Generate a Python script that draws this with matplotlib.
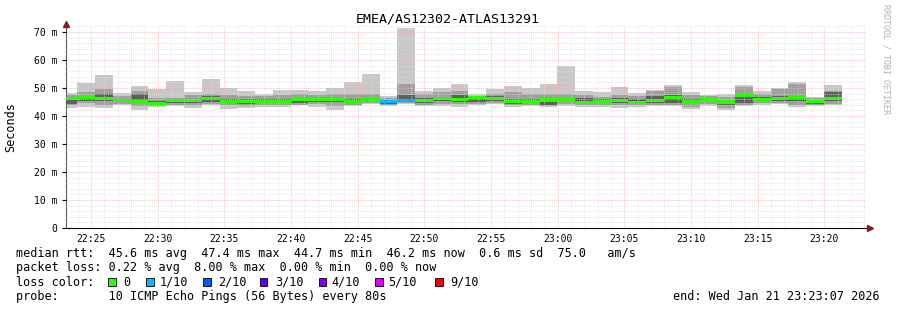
import numpy as np
import matplotlib
matplotlib.use("Agg")
import matplotlib.pyplot as plt
from matplotlib.patches import Rectangle
from matplotlib.ticker import MultipleLocator, FixedLocator

# -----------------------------
# Data (ms), one entry per 80 s bucket, first bucket starts 22:22:38
# -----------------------------
first_bucket = "22:22:38"
step_s = 80

ping_max = [48.1, 51.9, 54.6, 48.1, 50.7, 49.6, 52.5, 48.6, 53.2, 50.0, 48.9,
            47.9, 49.3, 49.3, 49.0, 50.1, 52.2, 55.1, 47.3, 71.4, 49.0, 50.0,
            51.4, 47.9, 49.5, 50.8, 50.0, 51.4, 58.0, 48.9, 48.5, 50.2, 48.1,
            49.3, 51.0, 48.5, 47.5, 47.7, 51.0, 48.9, 50.1, 52.1, 46.9, 51.1]
ping_hi = [47.5, 48.6, 49.8, 47.0, 49.0, 46.5, 46.5, 47.5, 48.0, 47.5, 47.3,
           47.0, 47.5, 48.0, 47.5, 48.0, 48.0, 48.0, 46.5, 51.4, 47.8, 48.5,
           49.0, 47.2, 48.0, 48.5, 48.0, 48.0, 48.0, 47.5, 46.8, 47.5, 47.0,
           49.0, 50.5, 47.5, 47.0, 46.7, 50.5, 48.0, 49.5, 51.5, 46.5, 49.0]
ping_dhi = [46.5, 47.0, 48.0, 46.0, 47.8, 45.5, 45.8, 46.0, 47.0, 46.0, 46.0,
            46.0, 46.2, 46.5, 46.6, 46.5, 46.2, 46.5, 45.8, 47.5, 46.5, 46.8,
            47.5, 46.8, 47.0, 46.0, 46.0, 46.3, 46.3, 46.5, 46.0, 46.3, 46.0,
            47.0, 47.5, 46.0, 46.3, 45.7, 48.0, 46.8, 47.0, 47.3, 45.8, 48.5]
median = [46.2, 46.5, 46.3, 45.6, 45.0, 44.6, 45.4, 45.4, 46.4, 45.3, 45.3,
          45.3, 45.3, 45.9, 46.0, 46.0, 45.3, 45.9, 45.1, 45.5, 45.5, 46.1,
          46.0, 46.6, 46.4, 45.2, 45.1, 45.7, 45.7, 44.9, 45.2, 45.5, 44.9,
          45.6, 46.5, 45.0, 45.7, 45.0, 47.4, 46.0, 46.2, 46.5, 45.1, 46.2]
ping_dlo = [44.3, 45.5, 45.5, 45.0, 44.5, 44.0, 44.8, 44.5, 45.0, 44.6, 44.2,
            44.6, 44.6, 44.8, 45.0, 45.0, 44.6, 45.3, 44.3, 45.0, 44.6, 45.3,
            45.0, 45.0, 45.5, 44.2, 44.5, 44.0, 45.0, 44.3, 44.5, 44.6, 44.4,
            44.8, 44.5, 44.3, 45.0, 44.0, 44.5, 45.3, 45.2, 45.2, 44.3, 45.3]
ping_lo = [43.8, 44.5, 44.0, 44.2, 43.5, 43.6, 44.0, 43.8, 44.3, 43.8, 43.5,
           43.8, 43.8, 44.0, 44.2, 43.5, 44.0, 44.8, 44.0, 44.6, 44.0, 44.4,
           44.2, 44.3, 44.8, 43.8, 44.0, 43.6, 44.3, 43.8, 43.9, 43.8, 43.8,
           44.0, 44.0, 43.3, 44.3, 43.0, 44.0, 44.6, 44.7, 44.0, 44.0, 44.4]
ping_min = [42.9, 43.3, 42.8, 43.8, 42.1, 43.3, 43.4, 43.0, 43.9, 42.6, 42.9,
            43.2, 43.3, 43.8, 43.3, 42.0, 43.5, 44.2, 43.6, 44.3, 43.7, 43.7,
            43.3, 43.9, 44.3, 43.1, 43.6, 43.2, 43.5, 43.3, 43.3, 43.0, 43.3,
            43.5, 43.4, 42.6, 43.7, 42.1, 43.5, 44.0, 44.2, 43.3, 43.6, 43.8]
loss = [0, 0, 0, 0, 0, 0, 0, 0, 0, 0, 0, 0, 0, 0, 0, 0, 0, 0, 1, 1, 0, 0,
        0, 0, 0, 0, 0, 0, 0, 0, 0, 0, 0, 0, 0, 0, 0, 0, 0, 0, 0, 0, 0, 0]

loss_labels = ["0", "1/10", "2/10", "3/10", "4/10", "5/10", "9/10"]
loss_colors = ["#26ff00", "#00b8ff", "#0059ff", "#5e00ff", "#7e00ff", "#dd00ff", "#ff0000"]
loss_levels = [0, 1, 2, 3, 4, 5, 9]

yticks = [0, 10, 20, 30, 40, 50, 60, 70]
xtick_labels = ["22:25", "22:30", "22:35", "22:40", "22:45", "22:50",
                "22:55", "23:00", "23:05", "23:10", "23:15", "23:20"]

# -----------------------------
# Time axis in minutes after 22:00
# -----------------------------
def to_min(s):
    h, m, sec = [int(p) for p in s.split(":")]
    return (h - 22) * 60 + m + sec / 60.0

x0 = to_min(first_bucket)
starts = x0 + np.arange(len(median)) * step_s / 60.0
width = step_s / 60.0
t_end = to_min("23:23:07")
t_start = t_end - 60

mono = "DejaVu Sans Mono"

fig = plt.figure(figsize=(8.97, 3.10), dpi=100)
W, H = 897, 310
ax = fig.add_axes([66 / W, (H - 228) / H, 800 / W, 202 / H])

# -----------------------------
# Smoke layers
# -----------------------------
mx, hi, dhi = np.array(ping_max), np.array(ping_hi), np.array(ping_dhi)
mn, lo, dlo = np.array(ping_min), np.array(ping_lo), np.array(ping_dlo)
med = np.array(median)

for top, bot, col in [(mx, mn, "#c8c8c8"), (hi, lo, "#a0a0a0"), (dhi, dlo, "#606060")]:
    ax.bar(starts, top - bot, bottom=bot, width=width, align="edge",
           color=col, linewidth=0, antialiased=False, zorder=2)

med_cols = [loss_colors[loss_levels.index(l)] for l in loss]
ax.bar(starts, 1.1, bottom=med - 0.55, width=width, align="edge",
       color=med_cols, linewidth=0, antialiased=False, zorder=5)

# -----------------------------
# Axes, grid
# -----------------------------
ax.set_xlim(t_start, t_end)
ax.set_ylim(0, 72.14)

major_x = [to_min(s + ":00") for s in xtick_labels]
ax.xaxis.set_major_locator(FixedLocator(major_x))
ax.set_xticklabels(xtick_labels, fontsize=7, family=mono)
ax.xaxis.set_minor_locator(MultipleLocator(1))
ax.set_yticks(yticks)
ax.set_yticklabels(["0" if v == 0 else f"{v} m" for v in yticks], fontsize=7, family=mono)
ax.yaxis.set_minor_locator(MultipleLocator(2))

ax.grid(which="minor", color="#dcdcdc", linestyle=(0, (1, 1.5)), linewidth=0.6, zorder=4)
ax.grid(which="major", color="#f2a8a8", linestyle=(0, (1, 1.5)), linewidth=0.6, zorder=4)
ax.set_axisbelow(False)
ax.tick_params(which="both", length=0)
ax.tick_params(axis="x", which="major", length=0, pad=4, colors="#000000")
ax.tick_params(axis="y", which="major", length=3, pad=3)

for s in ["top", "right"]:
    ax.spines[s].set_visible(False)
ax.spines["left"].set_color("#555555")
ax.spines["left"].set_linewidth(0.8)
ax.spines["bottom"].set_color("#000000")
ax.spines["bottom"].set_linewidth(0.8)
ax.spines["left"].set_bounds(0, 73.5)

# arrows
ax.plot([0], [1.01], marker="^", markersize=4, color="#8b1a1a",
        transform=ax.transAxes, clip_on=False, zorder=6)
ax.plot([1.005], [0], marker=">", markersize=4, color="#8b1a1a",
        transform=ax.transAxes, clip_on=False, zorder=6)

# -----------------------------
# Texts
# -----------------------------
fig.text(448 / W, 1 - 19 / H, "EMEA/AS12302-ATLAS13291", ha="center", va="center",
         fontsize=9.5, family=mono)
fig.text(11 / W, 1 - 127 / H, "Seconds", rotation=90, ha="center", va="center",
         fontsize=8.5, family=mono)
fig.text(886 / W, 1 - 4 / H, "RRDTOOL / TOBI OETIKER", rotation=270, ha="center", va="top",
         fontsize=6, family=mono, color="#b0b0b0")

rows = [253.5, 268, 282, 296.5]
fs = 8.5
fig.text(16 / W, 1 - rows[0] / H,
         "median rtt:  45.6 ms avg  47.4 ms max  44.7 ms min  46.2 ms now  0.6 ms sd  75.0   am/s",
         fontsize=fs, family=mono, va="center")
fig.text(16 / W, 1 - rows[1] / H,
         "packet loss: 0.22 % avg  8.00 % max  0.00 % min  0.00 % now",
         fontsize=fs, family=mono, va="center")
fig.text(16 / W, 1 - rows[2] / H, "loss color:", fontsize=fs, family=mono, va="center")
box_x = [108, 146, 203, 259.5, 318.5, 375, 435]
lab_x = [123, 160, 218, 275, 331.5, 388.5, 450]
for bx, lx, lab, col in zip(box_x, lab_x, loss_labels, loss_colors):
    fig.patches.append(Rectangle((bx / W, 1 - (rows[2] + 3.5) / H), 7.5 / W, 7.5 / H,
                                 transform=fig.transFigure, facecolor=col,
                                 edgecolor="#000000", linewidth=0.6))
    fig.text(lx / W, 1 - rows[2] / H, lab, fontsize=fs, family=mono, va="center")
fig.text(16 / W, 1 - rows[3] / H,
         "probe:       10 ICMP Echo Pings (56 Bytes) every 80s",
         fontsize=fs, family=mono, va="center")
fig.text(880 / W, 1 - rows[3] / H, "end: Wed Jan 21 23:23:07 2026",
         fontsize=fs, family=mono, va="center", ha="right")

fig.savefig("out.png", dpi=100)
